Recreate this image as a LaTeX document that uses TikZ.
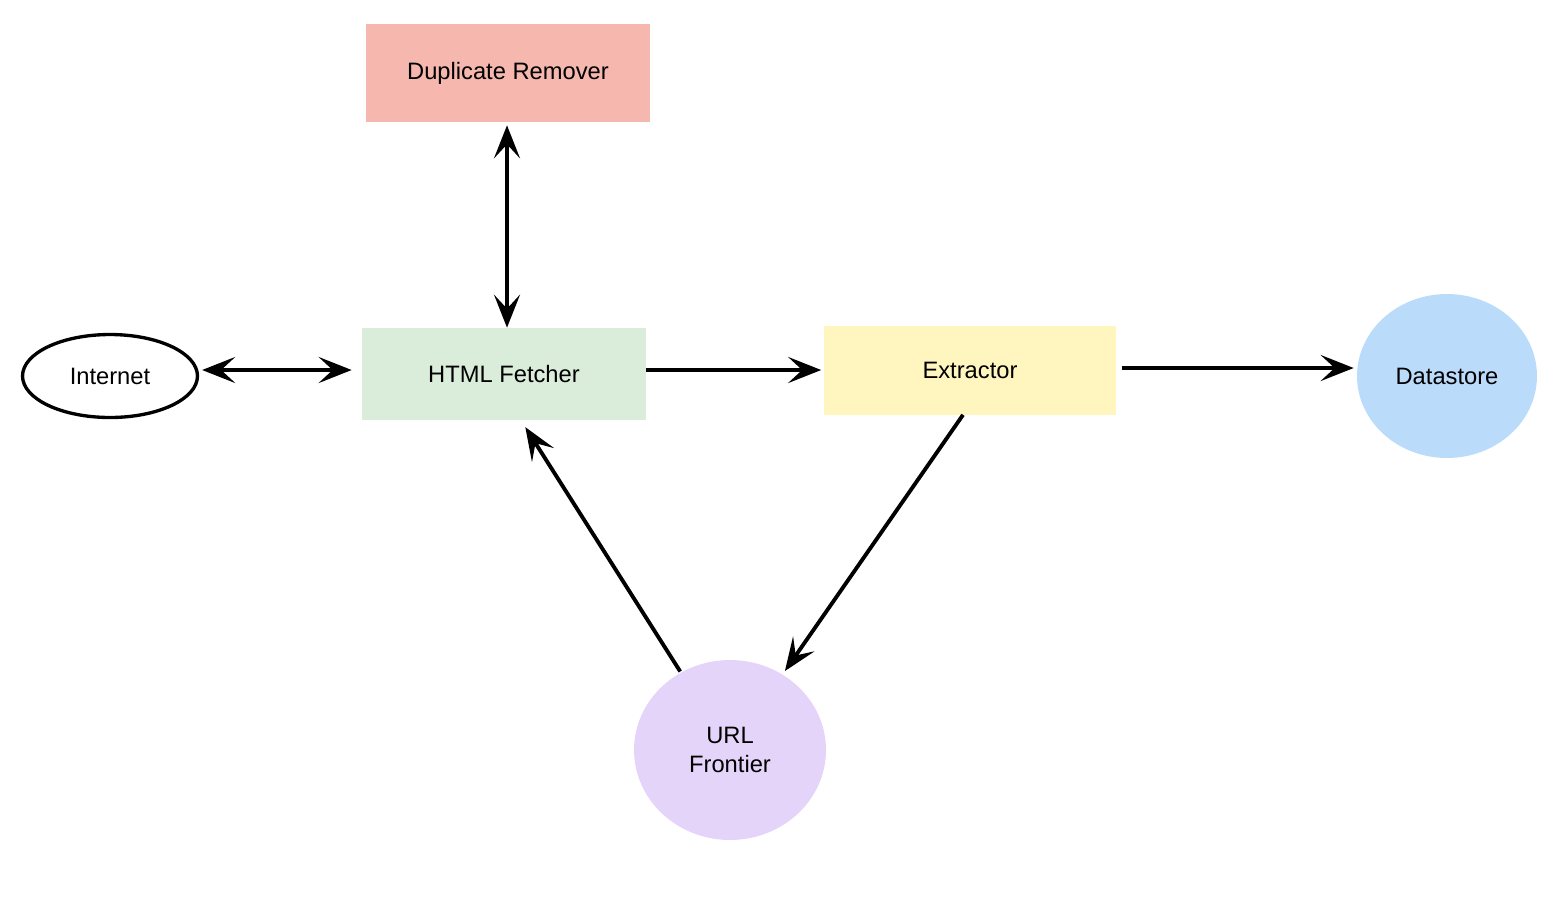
\documentclass[tikz,border=0pt]{standalone}
\usepackage{fontspec}
\setmainfont{Liberation Sans}
\usepackage{xcolor}
\usetikzlibrary{
	arrows.meta, 
	calc, 
	shapes.geometric, 
	positioning
}
\definecolor{dupred}{HTML}{F5B7AE}
\definecolor{fetchgreen}{HTML}{DAECDA}
\definecolor{extyellow}{HTML}{FFF5BF}
\definecolor{storeblue}{HTML}{BBDBFB}
\definecolor{urlpurple}{HTML}{E4D4F9}
\tikzset{
	box/.style={rectangle, inner sep=0pt, font=\fontsize{13.5}{16.5}\selectfont},
	blob/.style={ellipse, inner sep=0pt, font=\fontsize{13.5}{16.5}\selectfont, align=center},
	tip/.style={Stealth[length=0.66cm, width=0.52cm, inset=0.28cm]},
	flow/.style={line width=2.2pt, -{Stealth[length=0.66cm, width=0.52cm, inset=0.28cm]}},
	biflow/.style={line width=2.2pt, {Stealth[length=0.66cm, width=0.52cm, inset=0.28cm]}-{Stealth[length=0.66cm, width=0.52cm, inset=0.28cm]}}
}

\begin{document}
\begin{tikzpicture}[x=0.02cm, y=-0.02cm]
		\useasboundingbox (0,0) rectangle (1564,914);
		% components
		\node[box, fill=dupred, minimum width=5.68cm, minimum height=1.96cm] (dup) at (508,73) {Duplicate Remover};
		\node[box, fill=fetchgreen, minimum width=5.68cm, minimum height=1.84cm] (html) at (504,374) {HTML Fetcher};
		\node[box, fill=extyellow, minimum width=5.86cm, minimum height=1.78cm] (ext) at (970,370) {Extractor};
		\node[blob, draw, line width=1.9pt, minimum width=3.5cm, minimum height=1.66cm] (net) at (110,376) {Internet};
		\node[blob, fill=storeblue, minimum width=3.6cm, minimum height=3.28cm] (store) at (1447,376) {Datastore};
		\node[blob, fill=urlpurple, minimum width=3.84cm, minimum height=3.6cm] (url) at (730,750) {URL\\Frontier};
		% connectors
		\draw[biflow, shorten <=0.06cm, shorten >=0.2cm] (net.east |- ext.west) -- (html.west |- ext.west);
		\draw[biflow, shorten <=0.06cm] ($(dup.south)+(-1,0)$) -- ($(dup.south |- html.north)+(-1,0)$);
		\draw[flow, shorten >=0.04cm] (html.east |- ext.west) -- (ext.west);
		\draw[flow, shorten <=0.1cm, shorten >=0.06cm] ($(ext.east)+(0,-2)$) -- ($(store.west |- ext.east)+(0,-2)$);
		\draw[flow, shorten >=0.08cm] ($(ext.south)+(-7,0)$) -- (url);
		\draw[flow, shorten <=0.02cm, shorten >=0.16cm] (url) -- ($(html.south)+(17,0)$);
	\end{tikzpicture}
\end{document}
